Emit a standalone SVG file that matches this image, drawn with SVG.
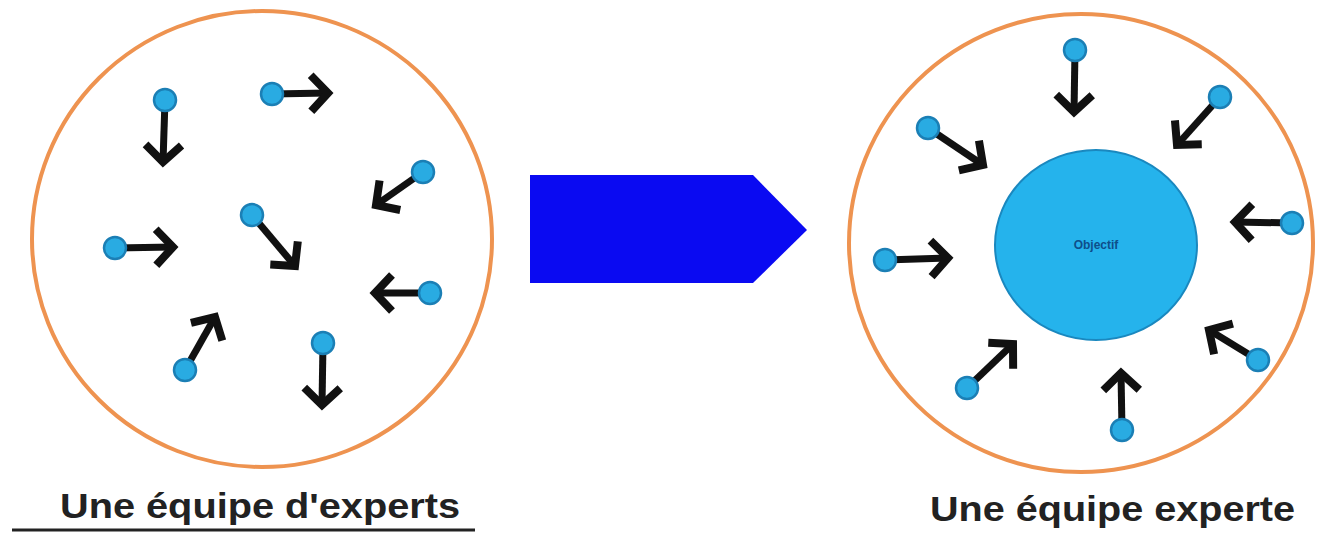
<svg xmlns="http://www.w3.org/2000/svg" width="1317" height="540" viewBox="0 0 1317 540">
<defs>
<style>
.team{fill:#ffffff;stroke:#EE9350;stroke-width:4}
.dot{fill:#29ABE2;stroke:#1B7FB5;stroke-width:2.5}
.arr{stroke:#111111;stroke-width:7;fill:none;marker-end:url(#chev)}
.lbl{font-family:"Liberation Sans",Arial,sans-serif;font-weight:bold;font-size:35px;fill:#222222}
.obj{fill:#25B3EC;stroke:#1A88BF;stroke-width:2}
.objt{font-family:"Liberation Sans",Arial,sans-serif;font-size:12px;fill:#0E4E8A;font-weight:bold}
</style>
<marker id="chev" markerUnits="userSpaceOnUse" viewBox="-24 -24 30 48" refX="0" refY="0" markerWidth="30" markerHeight="48" orient="auto" overflow="visible">
<path d="M-17,-18 L0,0 L-17,18" fill="none" stroke="#111111" stroke-width="8"/>
</marker>
</defs>
<rect x="0" y="0" width="1317" height="540" fill="#ffffff"/>

<g id="team-left">
<ellipse class="team" cx="262" cy="239" rx="230" ry="228"/>
</g>
<g id="team-right">
<ellipse class="team" cx="1081" cy="243" rx="232" ry="229"/>
</g>
<g id="objectif">
<ellipse class="obj" cx="1096" cy="245" rx="101" ry="95"/>
<text class="objt" x="1096" y="249" text-anchor="middle">Objectif</text>
</g>
<g id="transition">
<polygon points="530,175 753,175 807,230 753,283 530,283" fill="#0A0AF2"/>
</g>

<g id="connectors">
<line class="arr" x1="165" y1="100" x2="163" y2="162"/>
<line class="arr" x1="272" y1="94" x2="328" y2="93"/>
<line class="arr" x1="423" y1="172" x2="376" y2="205"/>
<line class="arr" x1="252" y1="215" x2="295" y2="266"/>
<line class="arr" x1="115" y1="248" x2="173" y2="247"/>
<line class="arr" x1="430" y1="293" x2="375" y2="293"/>
<line class="arr" x1="185" y1="370" x2="215" y2="317"/>
<line class="arr" x1="323" y1="343" x2="322" y2="405"/>

<line class="arr" x1="1075" y1="50" x2="1074" y2="112"/>
<line class="arr" x1="1220" y1="97" x2="1177" y2="145"/>
<line class="arr" x1="928" y1="128" x2="983" y2="165"/>
<line class="arr" x1="1292" y1="223" x2="1235" y2="222"/>
<line class="arr" x1="885" y1="260" x2="948" y2="258"/>
<line class="arr" x1="1258" y1="360" x2="1209" y2="330"/>
<line class="arr" x1="967" y1="388" x2="1013" y2="344"/>
<line class="arr" x1="1122" y1="430" x2="1121" y2="373"/>
</g>

<g id="experts-left">
<circle id="e1" class="dot" cx="165" cy="100" r="11"/>
<circle id="e2" class="dot" cx="272" cy="94" r="11"/>
<circle id="e3" class="dot" cx="423" cy="172" r="11"/>
<circle id="e4" class="dot" cx="252" cy="215" r="11"/>
<circle id="e5" class="dot" cx="115" cy="248" r="11"/>
<circle id="e6" class="dot" cx="430" cy="293" r="11"/>
<circle id="e7" class="dot" cx="185" cy="370" r="11"/>
<circle id="e8" class="dot" cx="323" cy="343" r="11"/>
</g>
<g id="experts-right">
<circle id="r1" class="dot" cx="1075" cy="50" r="11"/>
<circle id="r2" class="dot" cx="1220" cy="97" r="11"/>
<circle id="r3" class="dot" cx="928" cy="128" r="11"/>
<circle id="r4" class="dot" cx="1292" cy="223" r="11"/>
<circle id="r5" class="dot" cx="885" cy="260" r="11"/>
<circle id="r6" class="dot" cx="1258" cy="360" r="11"/>
<circle id="r7" class="dot" cx="967" cy="388" r="11"/>
<circle id="r8" class="dot" cx="1122" cy="430" r="11"/>
</g>

<g id="label-left">
<text class="lbl" x="60" y="518" textLength="400" lengthAdjust="spacingAndGlyphs">Une équipe d'experts</text>
<line x1="12" y1="530" x2="475" y2="530" stroke="#222222" stroke-width="3"/>
</g>
<g id="label-right">
<text class="lbl" x="930" y="521" textLength="365" lengthAdjust="spacingAndGlyphs">Une équipe experte</text>
</g>
</svg>
